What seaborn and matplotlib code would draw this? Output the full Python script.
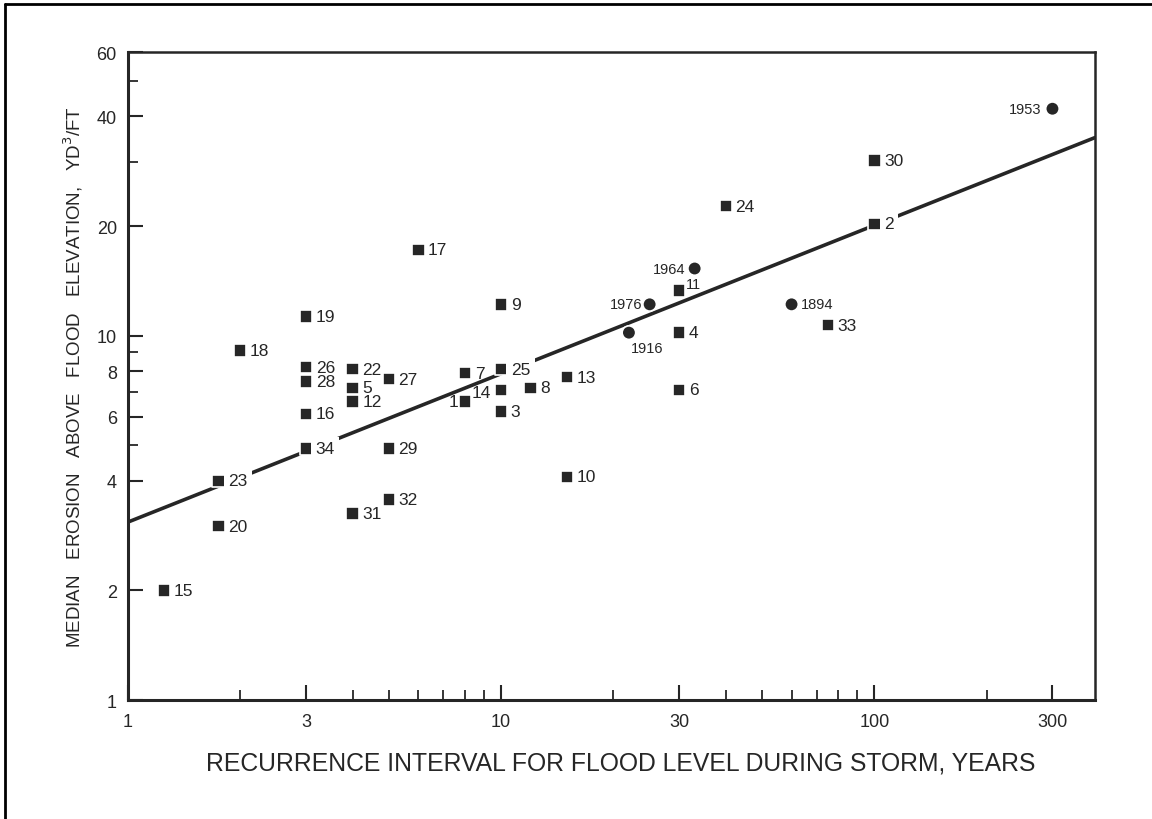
import numpy as np
import pandas as pd
import matplotlib
matplotlib.use("Agg")
import matplotlib.pyplot as plt
import seaborn as sns
from matplotlib.ticker import FixedLocator, FixedFormatter, NullFormatter
from matplotlib.lines import Line2D

# site data (numbered squares)
site_ids = ["1", "2", "3", "4", "5", "6", "7", "8", "9", "10", "11", "12",
            "13", "14", "15", "16", "17", "18", "19", "20", "22", "23", "24",
            "25", "26", "27", "28", "29", "30", "31", "32", "33", "34"]
site_interval = [8, 100, 10, 30, 4, 30, 8, 12, 10, 15, 30, 4,
                 15, 10, 1.25, 3, 6, 2, 3, 1.75, 4, 1.75, 40,
                 10, 3, 5, 3, 5, 100, 4, 5, 75, 3]
site_erosion = [6.6, 20.3, 6.2, 10.2, 7.2, 7.1, 7.9, 7.2, 12.2, 4.1, 13.3, 6.6,
                7.7, 7.1, 2.0, 6.1, 17.2, 9.1, 11.3, 3.0, 8.1, 4.0, 22.7,
                8.1, 8.2, 7.6, 7.5, 4.9, 30.3, 3.25, 3.55, 10.7, 4.9]

# storm data (circles)
storm_years = ["1894", "1916", "1953", "1964", "1976"]
storm_interval = [60, 22, 300, 33, 25]
storm_erosion = [12.2, 10.2, 42, 15.3, 12.2]

# fitted line end points
fit_x = [1, 390]
fit_y = [3.08, 35.0]

x_major = [1, 3, 10, 30, 100, 300]
x_minor = [2, 4, 5, 6, 7, 8, 9, 20, 40, 50, 60, 70, 80, 90, 200]
y_major = [1, 2, 4, 6, 8, 10, 20, 40, 60]
y_minor = [5, 7, 9, 30, 50]

# label placement (offset in points, ha, va)
offsets = {
    "1": (-5, 0, "right", "center"),
    "14": (-7, -2, "right", "center"),
    "11": (5, 5, "left", "center"),
    "1953": (-8, 0, "right", "center"),
    "1964": (-7, 0, "right", "center"),
    "1976": (-5, 0, "right", "center"),
    "1916": (13, -11, "center", "center"),
}
gap_labels = {"23", "34", "25", "2"}

ink = "#262626"

sns.set_theme(style="white")
plt.rcParams["font.family"] = ["Liberation Sans", "DejaVu Sans"]

sites = pd.DataFrame({"label": site_ids, "interval": site_interval,
                      "erosion": site_erosion, "kind": "site"})
storms = pd.DataFrame({"label": storm_years, "interval": storm_interval,
                       "erosion": storm_erosion, "kind": "storm"})
df = pd.concat([sites, storms], ignore_index=True)

fig = plt.figure(figsize=(11.52, 8.2), dpi=100)
ax = fig.add_axes([0.111, 0.145, 0.8395, 0.79])

sns.lineplot(x=fit_x, y=fit_y, color=ink, lw=2.6, ax=ax, zorder=2)
sns.scatterplot(data=df, x="interval", y="erosion", style="kind",
                markers={"site": "s", "storm": "o"}, color=ink,
                size="kind", sizes={"site": 80, "storm": 95},
                edgecolor="white", linewidth=1.2, legend=False,
                ax=ax, zorder=3)

for _, r in df.iterrows():
    dx, dy, ha, va = offsets.get(r["label"], (7, 0, "left", "center"))
    fs = 10.5 if r["kind"] == "storm" or r["label"] == "11" else 12.5
    kw = {}
    if r["label"] in gap_labels:
        kw["bbox"] = dict(boxstyle="square,pad=0.25", fc="white", ec="none")
    ax.annotate(r["label"], (r["interval"], r["erosion"]), xytext=(dx, dy),
                textcoords="offset points", ha=ha, va=va, fontsize=fs,
                color=ink, zorder=4, **kw)

ax.set_xscale("log")
ax.set_yscale("log")
ax.set_xlim(1, 390)
ax.set_ylim(1, 60)

ax.xaxis.set_major_locator(FixedLocator(x_major))
ax.xaxis.set_major_formatter(FixedFormatter([str(v) for v in x_major]))
ax.xaxis.set_minor_locator(FixedLocator(x_minor))
ax.xaxis.set_minor_formatter(NullFormatter())
ax.yaxis.set_major_locator(FixedLocator(y_major))
ax.yaxis.set_major_formatter(FixedFormatter([str(v) for v in y_major]))
ax.yaxis.set_minor_locator(FixedLocator(y_minor))
ax.yaxis.set_minor_formatter(NullFormatter())

ax.tick_params(which="both", bottom=True, left=True, top=False, right=False)
ax.tick_params(which="major", direction="in", length=11, width=1.5,
               color=ink, labelsize=13, labelcolor=ink)
ax.tick_params(which="minor", direction="in", length=7, width=1.3, color=ink)
ax.tick_params(axis="x", which="major", pad=9)
ax.tick_params(axis="y", which="major", pad=8)

for side, s in ax.spines.items():
    s.set_color(ink)
    s.set_linewidth(2.2 if side in ("left", "bottom") else 1.8)

ax.set_xlabel("RECURRENCE INTERVAL FOR FLOOD LEVEL DURING STORM, YEARS",
              fontsize=17.8, color=ink, labelpad=15)
ax.xaxis.label.set_x(0.51)
ax.set_ylabel("MEDIAN   EROSION   ABOVE   FLOOD   ELEVATION,   YD$^3$/FT",
              fontsize=13.5, color=ink, labelpad=8)

# page border (top and left)
fig.add_artist(Line2D([0.004, 0.004], [0.0, 0.994], color="black", lw=2.0))
fig.add_artist(Line2D([0.004, 1.0], [0.994, 0.994], color="black", lw=2.0))

fig.savefig("out.png", dpi=100)
